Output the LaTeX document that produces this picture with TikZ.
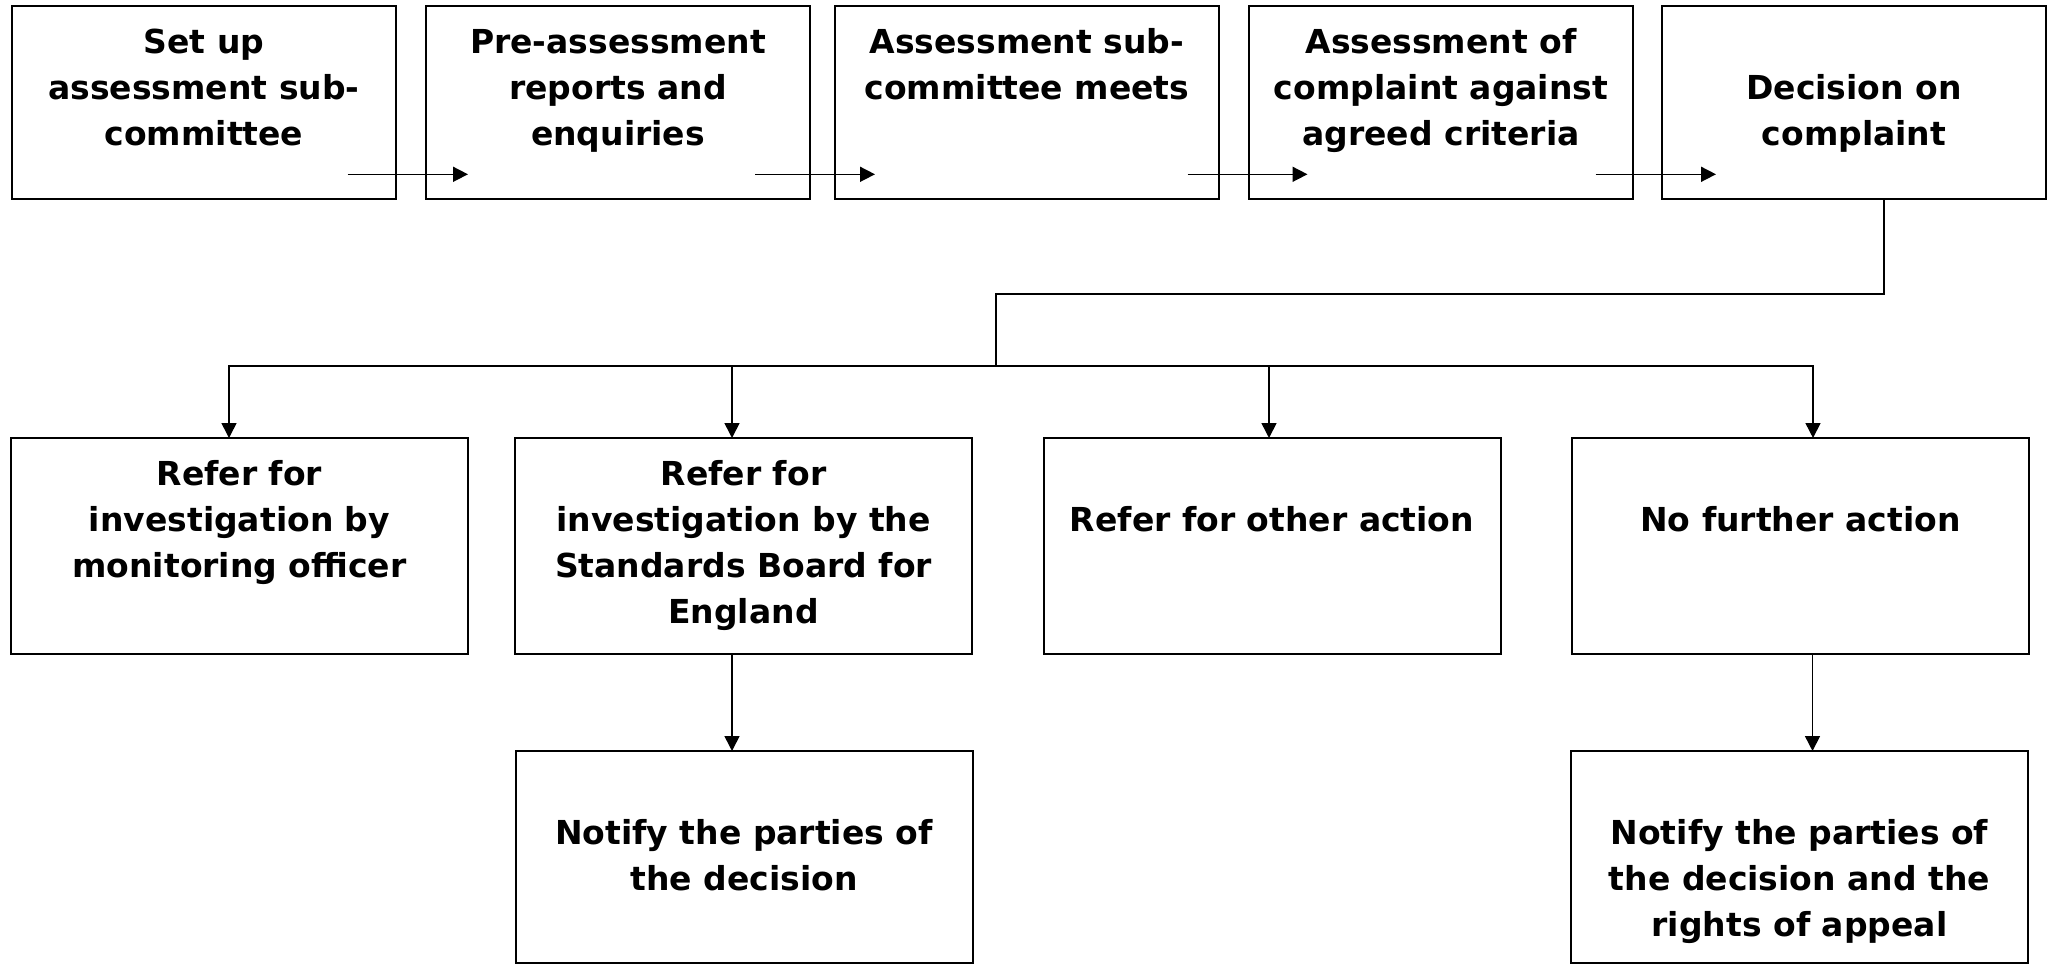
\documentclass[tikz,border=0pt]{standalone}
\usepackage{fontspec}
\setmainfont{DejaVu Sans}
\usetikzlibrary{arrows.meta}
\begin{document}
\begin{tikzpicture}[x=1pt,y=-1pt,
  box/.style={draw=black, line width=2pt, rectangle, inner sep=0pt, outer sep=0pt},
  topbox/.style={box, minimum width=384pt, minimum height=193pt},
  midbox/.style={box, minimum width=457pt, minimum height=216pt},
  lowbox/.style={box, minimum width=457pt, minimum height=212pt},
  txt/.style={anchor=north, inner sep=0pt, align=center, font=\bfseries\fontsize{33}{46}\selectfont},
  link/.style={line width=1.6pt},
  arr/.style={line width=1.6pt, -{Triangle[length=15pt,width=15pt]}}]
\useasboundingbox[fill=white] (0,0) rectangle (2049,966);

% top row
\node[topbox] (b1) at (204,102.5) {};
\node[topbox] (b2) at (618,102.5) {};
\node[topbox] (b3) at (1027,102.5) {};
\node[topbox] (b4) at (1441,102.5) {};
\node[topbox] (b5) at (1854,102.5) {};

\node[txt] (t1) at ([yshift=-14.8pt]b1.north) {\strut Set up\\assessment sub-\\committee};
\node[txt] (t2) at ([yshift=-14.8pt]b2.north) {\strut Pre-assessment\\reports and\\enquiries};
\node[txt] (t3) at ([yshift=-14.8pt]b3.north) {\strut Assessment sub-\\committee meets};
\node[txt] (t4) at ([yshift=-14.8pt]b4.north) {\strut Assessment of\\complaint against\\agreed criteria};
\node[txt] (t5) at ([yshift=-60.8pt]b5.north) {\strut Decision on\\complaint};

% middle row
\node[midbox] (c1) at (239.5,546) {};
\node[midbox] (c2) at (743.5,546) {};
\node[midbox] (c3) at (1272,546) {};
\node[midbox] (c4) at (1800.5,546) {};

\node[txt] (u1) at ([yshift=-14.8pt]c1.north) {\strut Refer for\\investigation by\\monitoring officer};
\node[txt] (u2) at ([yshift=-14.8pt]c2.north) {\strut Refer for\\investigation by the\\Standards Board for\\England};
\node[txt] (u3) at ([yshift=-60.8pt]c3.north) {\strut Refer for other action};
\node[txt] (u4) at ([yshift=-60.8pt]c4.north) {\strut No further action};

% bottom row
\node[lowbox] (d1) at (744,857) {};
\node[lowbox] (d2) at (1799.5,857) {};

\node[txt] (v1) at ([yshift=-60.8pt]d1.north) {\strut Notify the parties of\\the decision};
\node[txt] (v2) at ([yshift=-60.8pt]d2.north) {\strut Notify the parties of\\the decision and the\\rights of appeal};

% top arrows
\draw[arr] ([shift={(-48.4pt,-71.8pt)}]b1.east) -- ([shift={(42pt,-71.8pt)}]b2.west);
\draw[arr] ([shift={(-55pt,-71.8pt)}]b2.east) -- ([shift={(40pt,-71.8pt)}]b3.west);
\draw[arr] ([shift={(-31.5pt,-71.8pt)}]b3.east) -- ([shift={(58.5pt,-71.8pt)}]b4.west);
\draw[arr] ([shift={(-37.4pt,-71.8pt)}]b4.east) -- ([shift={(54pt,-71.8pt)}]b5.west);

% decision branches
\coordinate (k1) at (996,294);
\coordinate (bus) at (996,366);
\draw[link] ([xshift=30pt]b5.south) |- (k1) -- (bus);
\draw[arr] (bus) -| ([xshift=-10.5pt]c1.north);
\draw[arr] (bus) -| ([xshift=-11.5pt]c2.north);
\draw[arr] (bus) -| ([xshift=-3pt]c3.north);
\draw[arr] (bus) -| ([xshift=12.5pt]c4.north);

% lower arrows
\draw[arr] ([xshift=-11.5pt]c2.south) -- ([xshift=-12pt]d1.north);
\draw[arr] ([xshift=12pt]c4.south) -- ([xshift=13pt]d2.north);
\end{tikzpicture}
\end{document}
